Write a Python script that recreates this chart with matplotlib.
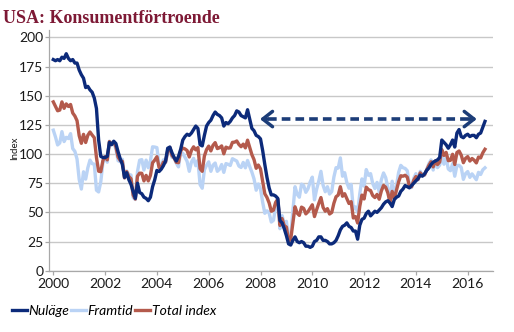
import matplotlib
matplotlib.use('Agg')
import matplotlib.pyplot as plt
from matplotlib.lines import Line2D
import numpy as np

# månadsdata jan 2000 - sep 2016
start_year = 2000

nulage = [
    181, 180, 181, 180, 183, 182, 186, 182, 180, 181, 178, 178,
    172, 168, 165, 157, 158, 155, 153, 148, 139, 112, 98, 97,
    97, 98, 110, 108, 111, 109, 102, 96, 91, 80, 84, 78,
    74, 68, 62, 75, 67, 66, 63, 62, 60, 63, 72, 78,
    86, 85, 87, 90, 94, 105, 106, 101, 97, 94, 98, 104,
    112, 115, 117, 116, 118, 121, 124, 122, 108, 107, 116, 124,
    127, 129, 133, 136, 134, 133, 131, 124, 127, 126, 128, 131,
    133, 137, 136, 133, 132, 131, 138, 130, 122, 120, 116, 115,
    113, 103, 91, 80, 71, 65, 65, 64, 62, 43, 41, 36,
    30, 23, 22, 26, 29, 25, 24, 25, 24, 21, 21, 20,
    21, 25, 26, 29, 29, 26, 26, 25, 23, 23, 24, 26,
    30, 35, 38, 39, 41, 38, 37, 34, 34, 27, 39, 44,
    45, 49, 51, 47, 49, 51, 50, 52, 54, 57, 59, 60,
    58, 55, 61, 63, 64, 68, 70, 73, 72, 71, 73, 75,
    77, 79, 82, 81, 83, 86, 88, 91, 93, 94, 95, 97,
    112, 110, 108, 105, 108, 112, 106, 118, 121, 115, 114, 116,
    117, 115, 116, 116, 114, 117, 118, 123, 128,
]

framtid = [
    120.5, 114.7, 107.8, 109.5, 119.2, 110.7, 114.3, 113.3, 117.5, 104.7, 102.3, 95.7,
    78.2, 70.0, 84.8, 78.5, 88.2, 94.8, 91.8, 91.3, 69.0, 67.5, 76.2, 93.0,
    98.3, 93.0, 111.0, 108.8, 109.8, 104.5, 94.3, 93.5, 95.5, 79.3, 85.5, 82.5,
    82.0, 62.7, 61.0, 85.0, 94.7, 95.2, 86.3, 94.8, 88.3, 94.2, 106.2, 106.0,
    105.5, 90.8, 89.5, 95.0, 92.5, 101.3, 105.5, 97.2, 96.5, 92.2, 89.0, 101.8,
    100.5, 97.3, 93.7, 85.2, 93.2, 96.3, 90.0, 94.5, 73.8, 70.7, 86.5, 90.3,
    93.3, 85.2, 90.5, 92.3, 85.2, 87.0, 91.0, 84.3, 91.8, 91.2, 90.2, 96.0,
    95.0, 94.0, 89.7, 88.5, 92.8, 88.2, 94.5, 89.3, 84.5, 78.7, 69.0, 74.3,
    70.2, 58.7, 49.2, 51.3, 49.5, 41.7, 43.2, 54.8, 61.0, 36.0, 47.2, 40.3,
    42.3, 26.8, 30.2, 50.7, 72.0, 65.5, 63.0, 74.2, 73.0, 67.2, 70.3, 76.0,
    80.2, 60.7, 69.8, 76.8, 85.2, 73.2, 67.7, 72.0, 65.7, 67.8, 80.3, 88.3,
    88.0, 96.7, 81.0, 84.0, 75.5, 70.7, 74.0, 52.7, 54.7, 50.2, 66.0, 78.7,
    72.5, 86.7, 81.8, 83.2, 74.7, 70.5, 75.7, 67.5, 78.0, 83.8, 79.8, 71.2,
    58.7, 76.7, 62.5, 73.0, 84.3, 90.3, 88.3, 87.7, 85.7, 73.3, 71.3, 79.2,
    83.2, 77.8, 85.2, 82.2, 81.7, 86.7, 91.8, 95.0, 86.3, 94.2, 88.3, 90.5,
    98.3, 91.3, 97.0, 87.2, 85.7, 91.7, 81.0, 90.2, 90.3, 88.5, 78.3, 83.2,
    85.0, 80.0, 83.0, 80.5, 78.0, 84.3, 82.5, 86.5, 88.2,
]

total = [
    144.7, 140.8, 137.1, 137.7, 144.7, 139.2, 143.0, 140.8, 142.5, 135.2, 132.6, 128.6,
    115.7, 109.2, 116.9, 109.9, 116.1, 118.9, 116.3, 114.0, 97.0, 85.3, 84.9, 94.6,
    97.8, 95.0, 110.7, 108.5, 110.3, 106.3, 97.4, 94.5, 93.7, 79.6, 84.9, 80.7,
    78.8, 64.8, 61.4, 81.0, 83.6, 83.5, 77.0, 81.7, 77.0, 81.7, 92.5, 94.8,
    97.7, 88.5, 88.5, 93.0, 93.1, 102.8, 105.7, 98.7, 96.7, 92.9, 92.6, 102.7,
    105.1, 104.4, 103.0, 97.5, 103.1, 106.2, 103.6, 105.5, 87.5, 85.2, 98.3, 103.8,
    106.8, 102.7, 107.5, 109.8, 104.7, 105.4, 107.0, 100.2, 105.9, 105.1, 105.3, 110.0,
    110.2, 111.2, 108.2, 106.3, 108.5, 105.3, 111.9, 105.6, 99.5, 95.2, 87.8, 90.6,
    87.3, 76.4, 65.9, 62.8, 58.1, 51.0, 51.9, 58.5, 61.4, 38.8, 44.7, 38.6,
    37.4, 25.3, 26.9, 40.8, 54.8, 49.3, 47.4, 54.5, 53.4, 48.7, 50.6, 53.6,
    56.5, 46.4, 52.3, 57.7, 62.7, 54.3, 51.0, 53.2, 48.6, 49.9, 57.8, 63.4,
    64.8, 72.0, 63.8, 66.0, 61.7, 57.6, 59.2, 45.2, 46.4, 40.9, 55.2, 64.8,
    61.5, 71.6, 69.5, 68.7, 64.4, 62.7, 65.4, 61.3, 68.4, 73.1, 71.5, 66.7,
    58.4, 68.0, 61.9, 69.0, 76.2, 81.4, 81.0, 81.8, 80.2, 72.4, 72.0, 77.5,
    80.7, 78.3, 83.9, 81.7, 82.2, 86.4, 90.3, 93.4, 89.0, 94.1, 91.0, 93.1,
    103.8, 98.8, 101.4, 94.3, 94.6, 99.8, 91.0, 101.3, 102.6, 99.1, 92.6, 96.3,
    97.8, 94.0, 96.2, 94.7, 92.4, 97.4, 96.7, 101.1, 104.1,
]

year_ticks = [2000, 2002, 2004, 2006, 2008, 2010, 2012, 2014, 2016]
y_ticks = [0, 25, 50, 75, 100, 125, 150, 175, 200]
series_labels = ['Nuläge', 'Framtid', 'Total index']

# pilen 2008 -> 2016
arrow_level = 130
arrow_from = 2007.98
arrow_to = 2016.35

c_nu = '#0c2a7a'
c_fr = '#bad3f5'
c_tot = '#b45a4c'
c_arrow = '#1c3d78'
c_grid = '#c8c8c8'
c_axis = '#a8a8a8'

x = start_year + np.arange(len(nulage)) / 12

fig = plt.figure(figsize=(5.14, 3.32), dpi=100)
ax = fig.add_axes([49 / 514, 1 - 270.7 / 332, (492.7 - 49) / 514, (270.7 - 29.7) / 332])

ax.plot(x, framtid, color=c_fr, lw=2.4, solid_joinstyle='round', zorder=2)
ax.plot(x, total, color=c_tot, lw=2.4, solid_joinstyle='round', zorder=3)
ax.plot(x, nulage, color=c_nu, lw=2.4, solid_joinstyle='round', zorder=4)

# streckad pil med öppna spetsar
ax.plot([arrow_from + 0.3, arrow_to - 0.3], [arrow_level, arrow_level],
        color=c_arrow, lw=2.6, dashes=(2.4, 1.4), dash_capstyle='butt', zorder=5)
head = dict(arrowstyle='->,head_length=0.7,head_width=0.55', lw=2.5,
            color=c_arrow, shrinkA=0, shrinkB=0)
ax.annotate('', xy=(arrow_from, arrow_level), xytext=(arrow_from + 0.3, arrow_level),
            arrowprops=head, zorder=5)
ax.annotate('', xy=(arrow_to, arrow_level), xytext=(arrow_to - 0.3, arrow_level),
            arrowprops=head, zorder=5)

ax.set_xlim(1999.834, 2016.965)
ax.set_ylim(0, 206.6)
ax.set_xticks(year_ticks)
ax.set_xticklabels([str(t) for t in year_ticks])
ax.set_yticks(y_ticks)

ax.yaxis.grid(True, color=c_grid, lw=1.0)
ax.set_axisbelow(True)
for s in ['top', 'right']:
    ax.spines[s].set_visible(False)
for s in ['left', 'bottom']:
    ax.spines[s].set_color(c_axis)
    ax.spines[s].set_linewidth(0.9)

ax.tick_params(axis='both', direction='out', length=3, width=0.9, color=c_axis,
               labelsize=10, labelcolor='#1a1a1a')
ax.tick_params(axis='x', pad=2.5)
ax.tick_params(axis='y', pad=1)
for lab in ax.get_xticklabels() + ax.get_yticklabels():
    lab.set_fontfamily('Lato')

fig.text(15 / 514, 1 - 148.5 / 332, 'Index', rotation=90, fontsize=7,
         fontfamily='Lato', color='#1a1a1a', ha='center', va='center')

fig.text(3 / 514, 1 - 23 / 332, 'USA: Konsumentförtroende', fontfamily='Liberation Serif',
         fontweight='bold', fontsize=13, color='#7d1935', va='baseline', ha='left')

handles = [Line2D([], [], color=c, lw=2.4) for c in (c_nu, c_fr, c_tot)]
fig.legend(handles, series_labels, loc='center left', bbox_to_anchor=(12 / 514, 1 - 311 / 332),
           ncol=3, frameon=False, borderpad=0, borderaxespad=0, handlelength=1.08,
           handletextpad=0.1, columnspacing=0.15,
           prop={'family': 'Lato', 'style': 'italic', 'size': 10})

fig.savefig('out.png', dpi=100)
